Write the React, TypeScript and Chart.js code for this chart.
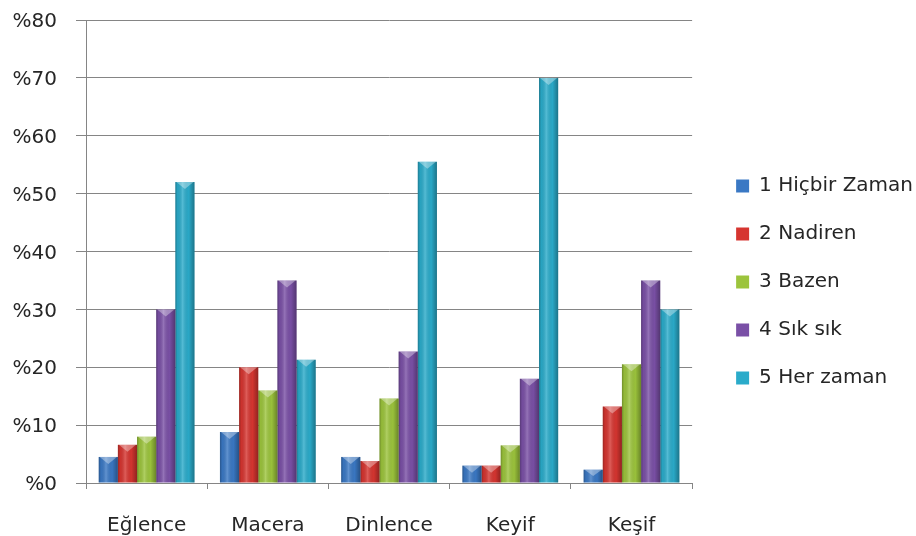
import React, { useEffect, useRef } from "react";
import { Chart, registerables } from "chart.js";

Chart.register(...registerables);

const categories = ["Eğlence", "Macera", "Dinlence", "Keyif", "Keşif"];
const seriesNames = ["1 Hiçbir Zaman", "2 Nadiren", "3 Bazen", "4 Sık sık", "5 Her zaman"];

const hicbirZaman = [4.5, 8.8, 4.5, 3.0, 2.3];
const nadiren = [6.6, 20.0, 3.8, 3.0, 13.2];
const bazen = [8.0, 16.0, 14.6, 6.5, 20.5];
const sikSik = [30.0, 35.0, 22.7, 18.0, 35.0];
const herZaman = [52.0, 21.3, 55.5, 70.0, 30.0];

const seriesValues = [hicbirZaman, nadiren, bazen, sikSik, herZaman];
const seriesColors = ["#3a78c4", "#d63530", "#9cc43c", "#7a50a6", "#2aabca"];

const FONT = "'DejaVu Sans', sans-serif";
const TEXT = "#262626";
const LINE = "#858585";

// space between the plot area and the legend, and the legend's vertical nudge
const LEGEND_GAP = 16;
const LEGEND_DY = 4;

// Cylinder-like shading and a lighter cap on top of every bar
const bevelPlugin = {
  id: "bevel",
  afterDatasetsDraw(chart: any) {
    const { ctx } = chart;
    chart.data.datasets.forEach((_ds: any, di: number) => {
      const meta = chart.getDatasetMeta(di);
      meta.data.forEach((bar: any) => {
        const { x, y, width, base } = bar.getProps(["x", "y", "width", "base"], true);
        const l = x - width / 2;
        const r = x + width / 2;
        const g = ctx.createLinearGradient(l, 0, r, 0);
        g.addColorStop(0, "rgba(0,0,0,0.28)");
        g.addColorStop(0.12, "rgba(0,0,0,0.05)");
        g.addColorStop(0.38, "rgba(255,255,255,0.2)");
        g.addColorStop(0.7, "rgba(0,0,0,0.02)");
        g.addColorStop(1, "rgba(0,0,0,0.32)");
        ctx.save();
        ctx.fillStyle = g;
        ctx.fillRect(l, y, width, base - y);
        const capH = Math.min(7, (base - y) * 0.5);
        ctx.beginPath();
        ctx.moveTo(l + 1, y);
        ctx.lineTo(r - 1, y);
        ctx.lineTo(x, y + capH);
        ctx.closePath();
        ctx.fillStyle = "rgba(255,255,255,0.35)";
        ctx.fill();
        ctx.restore();
      });
    });
  },
};

// Leaves a gap on the legend's left side so it sits away from the plot
const legendGapPlugin = {
  id: "legendGap",
  afterInit(chart: any) {
    const lg = chart.legend;
    if (!lg || lg.__gapped) return;
    lg.__gapped = true;
    const fit = lg.fit.bind(lg);
    lg.fit = function () {
      fit();
      this.width += LEGEND_GAP;
    };
    const draw = lg.draw.bind(lg);
    lg.draw = function () {
      const c = this.ctx;
      c.save();
      c.translate(LEGEND_GAP, LEGEND_DY);
      draw();
      c.restore();
    };
  },
};

export default function App() {
  const canvasRef = useRef<HTMLCanvasElement | null>(null);

  useEffect(() => {
    document.body.style.margin = "0";
    const canvas = canvasRef.current;
    if (!canvas) return;
    const chart = new Chart(canvas, {
      type: "bar",
      data: {
        labels: categories,
        datasets: seriesNames.map((name, i) => ({
          label: name,
          data: seriesValues[i],
          backgroundColor: seriesColors[i],
          borderWidth: 0,
          categoryPercentage: 0.79,
          barPercentage: 1.0,
        })),
      },
      options: {
        animation: false,
        responsive: false,
        maintainAspectRatio: false,
        layout: { padding: { top: 20, left: 0, right: -7, bottom: 0 } },
        plugins: {
          legend: {
            position: "right",
            maxWidth: 320,
            labels: {
              boxWidth: 13,
              boxHeight: 13,
              padding: 28,
              color: TEXT,
              font: { family: FONT, size: 20 },
            },
          },
          tooltip: { enabled: false },
        },
        scales: {
          x: {
            grid: {
              offset: true,
              drawOnChartArea: false,
              drawTicks: true,
              tickLength: 6,
              color: LINE,
            },
            border: { color: LINE, width: 1 },
            ticks: {
              color: TEXT,
              font: { family: FONT, size: 20 },
              padding: 25,
              maxRotation: 0,
            },
            afterFit: (s: any) => {
              s.height = 53;
              s.paddingLeft = 0;
              s.paddingRight = 0;
            },
          },
          y: {
            min: 0,
            max: 80,
            grid: {
              color: LINE,
              tickLength: 10,
            },
            border: { color: LINE, width: 1 },
            ticks: {
              stepSize: 10,
              color: TEXT,
              font: { family: FONT, size: 20 },
              padding: 19,
              labelOffset: 2,
              callback: (v: any) => "%" + v,
            },
            afterFit: (s: any) => {
              s.width = 86;
              s.paddingTop = 0;
              s.paddingBottom = 0;
            },
          },
        },
      },
      plugins: [bevelPlugin, legendGapPlugin],
    });
    return () => chart.destroy();
  }, []);

  return (
    <div style={{ position: "fixed", left: 0, top: 0, width: 916, height: 536, background: "#fff" }}>
      <canvas ref={canvasRef} width={916} height={536} style={{ display: "block" }} />
    </div>
  );
}
